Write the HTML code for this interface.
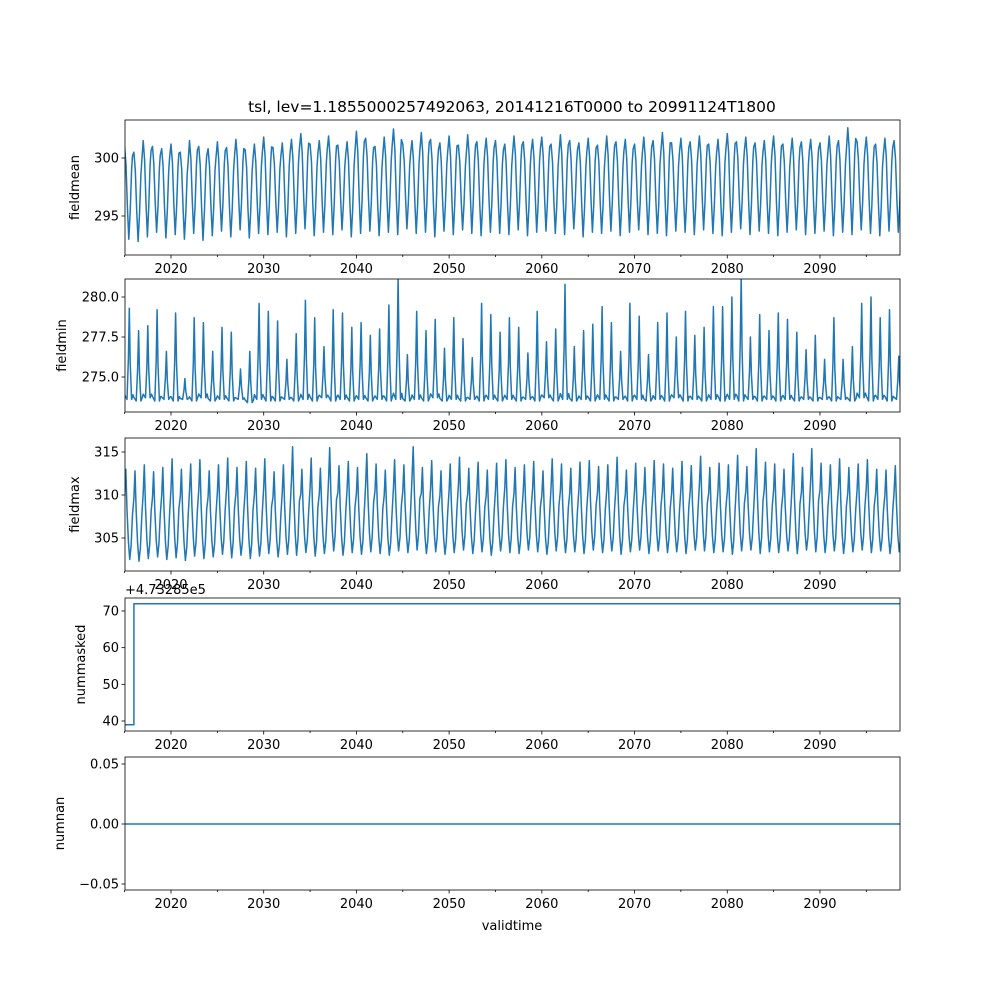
<!DOCTYPE html>
<html><head><meta charset="utf-8"><style>
body{margin:0;background:#fff}
svg{display:block;font-family:"DejaVu Sans","Liberation Sans",sans-serif}
</style></head><body>
<svg id="fig" width="1000" height="1000">
<text x="512" y="112" font-size="15.5" text-anchor="middle">tsl, lev=1.1855000257492063, 20141216T0000 to 20991124T1800</text>
</svg>
<script>
const years=[];for(let y=2015;y<2100;y++)years.push(y);
const meanPeak=[301,300.5,301.5,301,300.8,301.2,300.5,301.5,301,300.8,301.4,300.9,301.6,300.7,301.2,301.8,300.9,301.3,301.6,302.1,301.2,301.5,301.9,301.1,301.4,302.3,301.7,301,301.8,302.5,301.2,301.5,302.2,301.6,301.3,301.9,301.1,302,301.4,301.7,301.5,301.2,301.9,301.4,301.6,301.8,301.2,302,301.5,301.3,301.7,301.1,301.9,301.4,301.6,301.2,301.8,301.5,302.2,301.3,301.7,301.4,301.9,301.2,301.6,302.1,301.4,301.8,301.3,301.5,301.9,301.2,301.7,301.4,301.6,301.3,301.9,301.5,302.6,301.4,301.8,301.2,301.7,301.5,301];
const meanLow=[293,292.8,293.2,293.6,293.1,293.4,293,293.5,292.9,293.3,293.7,293.2,293.8,293.1,293.5,293.4,293.6,293.2,293.5,293.9,293.3,293.6,293.4,293.8,293.2,293.5,293.7,293.3,293.6,293.4,293.9,293.5,293.6,293.2,293.7,293.4,293.8,293.5,293.3,293.6,293.5,293.4,293.8,293.3,293.6,293.7,293.5,293.4,293.9,293.2,293.6,293.5,293.7,293.3,293.6,293.8,293.4,293.5,293.3,293.7,293.6,293.4,293.8,293.5,293.3,293.6,293.9,293.4,293.7,293.5,293.3,293.6,293.8,293.4,293.5,293.7,293.3,293.6,293.4,293.8,293.5,293.3,293.7,293.6,293.9];
const minPeak=[279.3,277.9,278.2,279.2,276.6,279,274.9,278.7,278.4,276.6,278.1,277.8,275.5,276.6,279.6,279.1,278.5,276.1,277.7,279.8,278.7,276.9,279.2,279,278.1,278.4,277.6,278,279.5,281.2,276.4,279.1,277.9,278.6,276.8,278.7,277.4,276.2,279.6,278.9,277.8,278.7,278.1,276.5,279.1,277.2,278,280.8,276.9,277.9,278.3,279.4,278.4,276.6,279.6,278.8,276.4,278.4,279,277.5,279.1,277.6,278.1,279.4,279.4,280,281.3,277.5,278.9,277.9,279,278.6,277.8,276.7,277.6,276.1,278.7,276.1,276.9,279.6,280,278.7,279.2,276.3,279.7];
const minLow=[273.6,273.5,273.7,273.5,273.6,273.5,273.6,273.5,273.7,273.5,273.6,273.5,273.6,273.4,273.6,273.5,273.5,273.6,273.5,273.6,273.5,273.7,273.5,273.6,273.5,273.6,273.5,273.6,273.5,273.6,273.5,273.6,273.5,273.7,273.5,273.6,273.5,273.6,273.5,273.6,273.5,273.6,273.5,273.6,273.5,273.7,273.5,273.6,273.5,273.6,273.5,273.6,273.5,273.6,273.5,273.6,273.5,273.6,273.5,273.7,273.5,273.6,273.5,273.6,273.5,273.6,273.5,273.6,273.5,273.6,273.5,273.6,273.5,273.6,273.5,273.6,273.5,273.6,273.5,273.7,273.5,273.6,273.5,273.6,273.5];
const maxPeak=[313,312.8,313.5,312.7,313.2,314.2,313,313.6,314.1,312.8,313.5,314.3,313.2,313.9,313.1,314.2,312.7,313.5,315.6,313,314.3,313.1,315.5,313.4,313.9,313.2,314.8,313.6,312.9,314.1,313.5,315.6,313.2,314,312.8,313.6,314.4,313.1,313.8,312.9,313.7,314.1,313.2,313.5,313.9,312.8,314.2,313.6,313.1,313.8,314,313.3,313.5,314.4,312.9,313.7,313.2,314,313.6,313.1,313.9,313.4,314.5,313.2,313.7,313.5,314.6,313.3,315.4,313.8,313.6,313,314.8,313.2,315.4,313.7,313.5,314.2,313.2,313.6,314.1,313,312.9,313.4,312.6];
const maxLow=[302.5,302.3,302.6,302.8,302.5,302.7,302.4,302.9,302.6,302.8,303.1,302.7,303,302.6,302.9,303.2,302.8,303.1,303,303.3,302.9,303.2,303.5,303,303.3,303.1,303.4,303.2,303,303.5,303.3,303.6,303.2,303.4,303.1,303.3,303.6,303.2,303.4,303,303.5,303.3,303.2,303.6,303.4,303.1,303.5,303.3,303.4,303.2,303.6,303.3,303.5,303.1,303.4,303.6,303.2,303.5,303.3,303.4,303.2,303.6,303.5,303.3,303.4,303.1,303.5,303.6,303.2,303.4,303.3,303.5,303.2,303.6,303.4,303.3,303.5,303.2,303.4,303.6,303.3,303.5,303.2,303.4,303.1];
const maskT=[2014.96,2016.0,2016.0,2099.9];
const maskV=[39,39,72,72];
const nanT=[2014.96,2099.9];
const nanV=[0,0];
const xTicks=[2020,2030,2040,2050,2060,2070,2080,2090];

const svg=document.getElementById('fig');
const NS='http://www.w3.org/2000/svg';
const L=125,R=900,C='#1f77b4';
function X(t){return 171+(t-2020)*9.271;}
function el(tag,attrs){const e=document.createElementNS(NS,tag);for(const k in attrs)e.setAttribute(k,attrs[k]);svg.appendChild(e);return e;}
const panels=[
 {top:120,bot:255,v0:300,y0:158,v1:295,y1:216,ticks:[300,295],fmt:v=>v.toFixed(0),label:'fieldmean',name:'fieldmean'},
 {top:279,bot:412,v0:280,y0:297,v1:275,y1:377,ticks:[280,277.5,275],fmt:v=>v.toFixed(1),label:'fieldmin',name:'fieldmin'},
 {top:438,bot:571,v0:315,y0:452,v1:305,y1:538,ticks:[315,310,305],fmt:v=>v.toFixed(0),label:'fieldmax',name:'fieldmax'},
 {top:598,bot:731,v0:70,y0:611,v1:40,y1:721,ticks:[70,60,50,40],fmt:v=>v.toFixed(0),label:'nummasked',name:'nummasked'},
 {top:757,bot:890,v0:0.05,y0:764,v1:-0.05,y1:884,ticks:[0.05,0,-0.05],fmt:v=>(v<0?'\u22120.05':v.toFixed(2)),label:'numnan',name:'numnan'}
];
function series(peaks,lows,tmpl){
 const pts=[];
 years.forEach((y,i)=>{tmpl.forEach(([ph,k])=>{const v=k==='p'?peaks[i]:k==='l'?lows[i]:lows[i]+(peaks[i]-lows[i])*k;pts.push([y+ph,v]);});});
 return pts;
}
const tMean=[[0,'p'],[0.15,0.8],[0.3,0.35],[0.45,'l'],[0.6,0.3],[0.75,0.75],[0.85,0.9]];
const tMin=[[0,0.05],[0.25,0],[0.4,0.45],[0.5,'p'],[0.6,0.4],[0.75,'l'],[0.9,0.05]];
const tMax=[[0,0.7],[0.12,'p'],[0.25,0.55],[0.4,0.2],[0.55,'l'],[0.7,0.15],[0.85,0.5]];
const data=[series(meanPeak,meanLow,tMean),series(minPeak,minLow,tMin),series(maxPeak,maxLow,tMax),maskT.map((t,i)=>[t,maskV[i]]),nanT.map((t,i)=>[t,nanV[i]])];
panels.forEach((p,pi)=>{
 const Y=v=>p.y0+(v-p.v0)*(p.y1-p.y0)/(p.v1-p.v0);
 const cid='clip'+pi;
 const cp=el('clipPath',{id:cid});const r=document.createElementNS(NS,'rect');r.setAttribute('x',L);r.setAttribute('y',p.top);r.setAttribute('width',R-L);r.setAttribute('height',p.bot-p.top);cp.appendChild(r);
 const pts=data[pi].map(([t,v])=>X(t).toFixed(1)+','+Y(v).toFixed(1)).join(' ');
 const line=el('polyline',{points:pts,fill:'none',stroke:C,'stroke-width':1.5,'stroke-linejoin':'round','clip-path':'url(#'+cid+')'});
 
 
 const fr=el('rect',{x:L,y:p.top,width:R-L,height:p.bot-p.top,fill:'none',stroke:'#000','stroke-width':0.8});
 
 
 p.ticks.forEach(v=>{
  const y=Y(v);
  el('line',{x1:L-3.5,x2:L,y1:y,y2:y,stroke:'#000','stroke-width':0.8});
  const t=el('text',{x:L-6,y:y+4.5,'font-size':13,'text-anchor':'end'});t.textContent=p.fmt(v);
  
  
 });
 for(let y=2015;y<=2100;y+=5){const x=X(y);if(x<L-1||x>R+1)continue;const maj=y%10===0;el('line',{x1:x,x2:x,y1:p.bot,y2:p.bot+(maj?3.5:2),stroke:'#000','stroke-width':0.8});}
 xTicks.forEach(y=>{const t=el('text',{x:X(y),y:p.bot+18,'font-size':13,'text-anchor':'middle'});t.textContent=y;
  
  });
 const lab=el('text',{x:0,y:0,'font-size':13,'text-anchor':'middle',transform:'translate('+(pi===3?85:pi===4?64:pi===1?66:79)+','+((p.top+p.bot)/2)+') rotate(-90)'});
 lab.textContent=p.label;
 
 
});
const off=el('text',{x:125,y:594,'font-size':13});off.textContent='+4.73285e5';


const xl=el('text',{x:512,y:930,'font-size':13,'text-anchor':'middle'});xl.textContent='validtime';


</script>
</body></html>
